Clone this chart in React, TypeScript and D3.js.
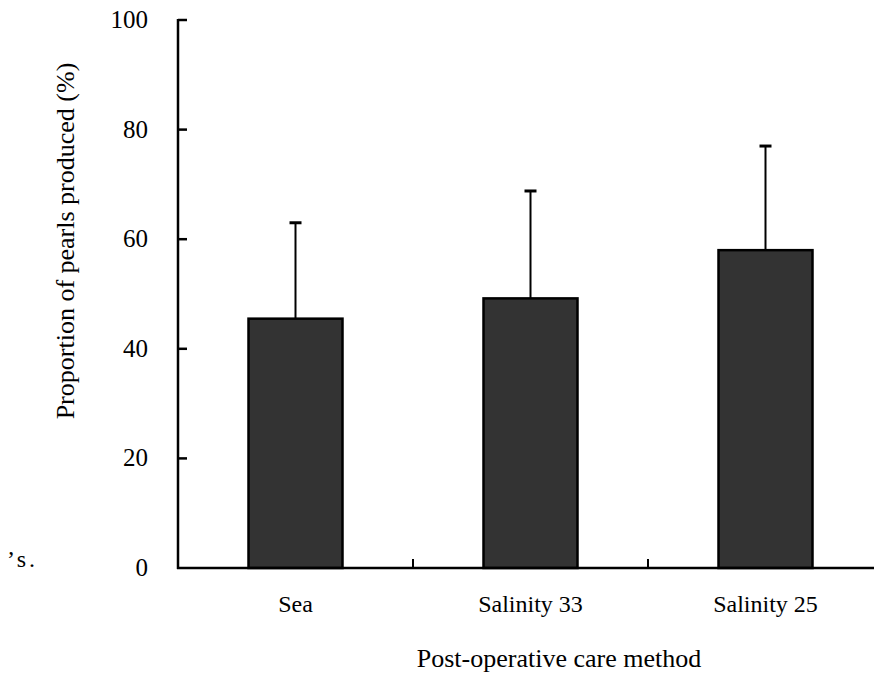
import React from "react";
import * as d3 from "d3";

const categories = ["Sea", "Salinity 33", "Salinity 25"];
const means = [45.5, 49.2, 58.0];
const upperErrors = [17.5, 19.6, 19.0];
const yTicks = [0, 20, 40, 60, 80, 100];

const W = 874;
const H = 675;
const FONT = "'Liberation Serif', 'Times New Roman', serif";

export default function App() {
  const x0 = 178;
  const y0 = 568;
  const y = d3.scaleLinear().domain([0, 100]).range([y0, 20]);
  const x = d3
    .scaleBand<string>()
    .domain(categories)
    .range([x0, x0 + 705])
    .paddingInner(0.6)
    .paddingOuter(0.3);
  const step = x.step();
  const bw = x.bandwidth();

  return (
    <svg
      width={W}
      height={H}
      style={{ position: "absolute", left: 0, top: 0, background: "#fff" }}
      fontFamily={FONT}
    >
      {/* text fragment at left margin */}
      <text x={7} y={567} fontSize={24} letterSpacing={3}>
        ’s.
      </text>

      {/* bars */}
      {categories.map((c, i) => (
        <rect
          key={c}
          x={x(c)!}
          y={y(means[i])}
          width={bw}
          height={y0 - y(means[i])}
          fill="#333333"
          stroke="#000"
          strokeWidth={2.5}
        />
      ))}

      {/* error bars (upper only) */}
      {categories.map((c, i) => {
        const cx = x(c)! + bw / 2;
        const top = y(means[i] + upperErrors[i]);
        return (
          <g key={c}>
            <line x1={cx} x2={cx} y1={y(means[i])} y2={top} stroke="#000" strokeWidth={2} />
            <line x1={cx - 6} x2={cx + 6} y1={top} y2={top} stroke="#000" strokeWidth={3} />
          </g>
        );
      })}

      {/* y axis */}
      <line x1={x0} x2={x0} y1={y(100) - 1} y2={y0 + 1} stroke="#000" strokeWidth={2.5} />
      {yTicks.map((t) => (
        <g key={t}>
          {t > 0 && <line x1={x0} x2={x0 + 9} y1={y(t)} y2={y(t)} stroke="#000" strokeWidth={2.5} />}
          <text x={148} y={y(t) + 8} fontSize={25} textAnchor="end">
            {t}
          </text>
        </g>
      ))}

      {/* x axis */}
      <line x1={x0 - 1} x2={W} y1={y0} y2={y0} stroke="#000" strokeWidth={2.5} />
      {categories.slice(1).map((c) => (
        <line key={c} x1={x(c)! - (step - bw) / 2} x2={x(c)! - (step - bw) / 2} y1={y0} y2={y0 - 9} stroke="#000" strokeWidth={2} />
      ))}
      {categories.map((c) => (
        <text key={c} x={x(c)! + bw / 2} y={612} fontSize={24} textAnchor="middle">
          {c}
        </text>
      ))}

      {/* axis titles */}
      <text x={559} y={667} fontSize={26} textAnchor="middle">
        Post-operative care method
      </text>
      <text
        transform={`translate(74, ${241}) rotate(-90)`}
        fontSize={26}
        textAnchor="middle"
      >
        Proportion of pearls produced (%)
      </text>
    </svg>
  );
}
